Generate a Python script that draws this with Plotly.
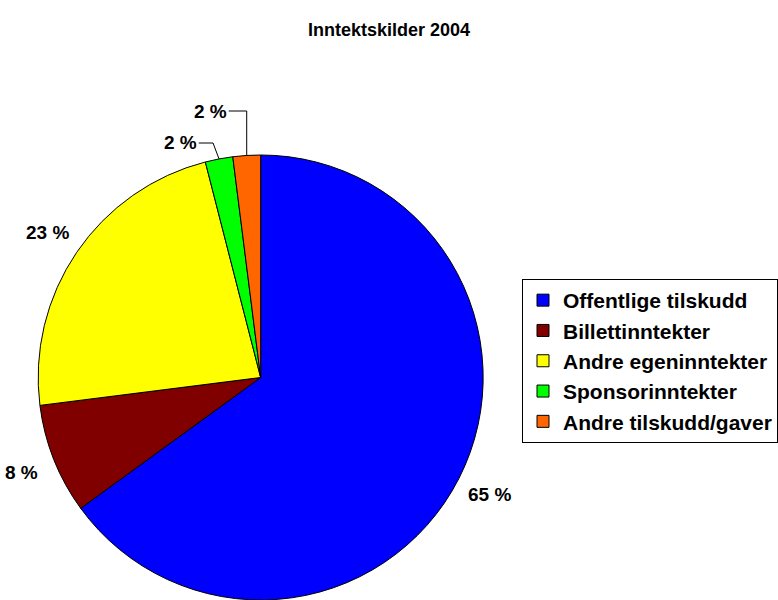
import math
import plotly.graph_objects as go

# ---- data ----
categories = ["Offentlige tilskudd", "Billettinntekter", "Andre egeninntekter",
              "Sponsorinntekter", "Andre tilskudd/gaver"]
values = [65, 8, 23, 2, 2]
colors = ["#0000FF", "#800000", "#FFFF00", "#00FF00", "#FF6600"]
title_text = "Inntektskilder 2004"

W, H = 778, 600
FONT = "Liberation Sans, Arial, sans-serif"

# pie domain in pixels (top-left origin)
dom_x_px = (38, 484)
dom_y_px = (155, 600)  # top, bottom
cx = (dom_x_px[0] + dom_x_px[1]) / 2
cy = (dom_y_px[0] + dom_y_px[1]) / 2
R = min(dom_x_px[1] - dom_x_px[0], dom_y_px[1] - dom_y_px[0]) / 2

def px2paper(x, y):
    return x / W, 1 - y / H

fig = go.Figure(go.Pie(
    labels=categories, values=values, sort=False, direction="clockwise",
    rotation=0, textinfo="none", hoverinfo="label+percent",
    marker=dict(colors=colors, line=dict(color="black", width=1)),
    domain=dict(x=[dom_x_px[0] / W, dom_x_px[1] / W],
                y=[1 - dom_y_px[1] / H, 1 - dom_y_px[0] / H]),
))

total = sum(values)
annotations = []
shapes = []
cum = 0
# manual label placement for the two tiny slices (dragged labels with leaders)
manual = {3: (181, 143), 4: (211, 111)}
for i, v in enumerate(values):
    mid = (cum + v / 2) / total * 2 * math.pi
    cum += v
    dx, dy = math.sin(mid), -math.cos(mid)
    txt = f"{round(v / total * 100)} %"
    if i in manual:
        lx, ly = manual[i]
        ex, ey = cx + dx * R, cy + dy * R
        start_x = lx + 18
        bend_x = ex if i == 4 else ex - 6
        p0, p1, p2 = px2paper(start_x, ly), px2paper(bend_x, ly), px2paper(ex, ey)
        shapes.append(dict(type="path", xref="paper", yref="paper",
                           path=f"M{p0[0]},{p0[1]} L{p1[0]},{p1[1]} L{p2[0]},{p2[1]}",
                           line=dict(color="black", width=1)))
    else:
        lx, ly = cx + dx * (R + 35), cy + dy * (R + 35)
    ax_, ay_ = px2paper(lx, ly)
    annotations.append(dict(x=ax_, y=ay_, xref="paper", yref="paper", text=txt,
                            showarrow=False, xanchor="center", yanchor="middle",
                            font=dict(family=FONT, size=19, color="black", weight="bold")))

fig.update_layout(
    width=W, height=H,
    margin=dict(l=0, r=0, t=0, b=0),
    paper_bgcolor="white", plot_bgcolor="white",
    title=dict(text=title_text, x=0.5, xanchor="center", y=1 - 30 / H, yanchor="middle",
               font=dict(family=FONT, size=18, color="black", weight="bold")),
    legend=dict(x=523 / W, y=1 - 279 / H, xanchor="left", yanchor="top",
                bordercolor="black", borderwidth=1, bgcolor="white",
                font=dict(family=FONT, size=21, color="black", weight="bold"),
                traceorder="normal"),
    annotations=annotations, shapes=shapes,
)

fig.write_html("out.html", config={"displayModeBar": False},
               post_script="document.body.style.margin='0';")
